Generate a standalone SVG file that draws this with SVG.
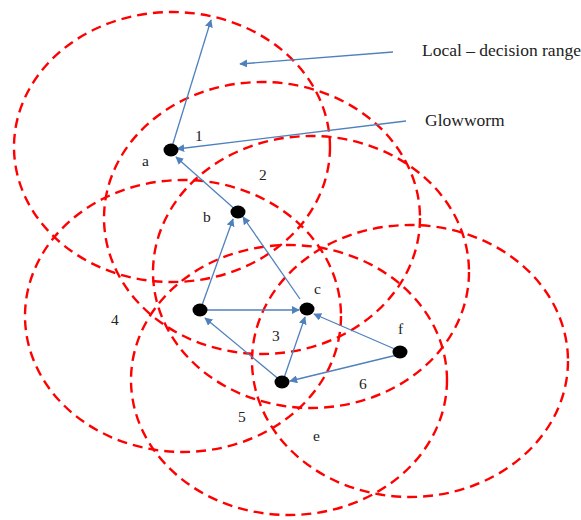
<svg xmlns="http://www.w3.org/2000/svg" width="581" height="520" viewBox="0 0 581 520">
  <style>
    .range { fill: none; stroke: #ff0000; stroke-width: 2.4; stroke-dasharray: 10 6; }
    .link { stroke: #4f81bd; stroke-width: 1.3; fill: none; marker-end: url(#arrow); }
    .worm { fill: #000; }
    .lbl { font-family: "Liberation Serif", "Times New Roman", serif; font-size: 15.5px; fill: #222; }
    .note { font-family: "Liberation Serif", "Times New Roman", serif; font-size: 17.5px; fill: #222; }
  </style>
  <defs>
    <marker id="arrow" viewBox="0 0 10 10" refX="9" refY="5" markerWidth="8" markerHeight="8" markerUnits="userSpaceOnUse" orient="auto">
      <path d="M0,0 L10,5 L0,10 z" fill="#4f81bd"/>
    </marker>
  </defs>
  <rect width="581" height="520" fill="#fff"/>

  <!-- decision ranges -->
  <g id="ranges">
    <ellipse class="range" cx="172" cy="147" rx="158" ry="135"/>
    <ellipse class="range" cx="262" cy="218" rx="158" ry="136"/>
    <ellipse class="range" cx="311" cy="272" rx="158" ry="136"/>
    <ellipse class="range" cx="183" cy="316" rx="158" ry="136"/>
    <ellipse class="range" cx="289" cy="380" rx="158" ry="135"/>
    <ellipse class="range" cx="410" cy="361" rx="158" ry="136"/>
  </g>

  <!-- connectors -->
  <g id="connectors">
    <line class="link" x1="171" y1="150" x2="211" y2="20"/>
    <line class="link" x1="393" y1="52" x2="240" y2="64"/>
    <line class="link" x1="406" y1="121" x2="177" y2="149"/>
    <line class="link" x1="238" y1="212" x2="176" y2="157"/>
    <line class="link" x1="201" y1="308" x2="233" y2="219"/>
    <line class="link" x1="300" y1="299" x2="243" y2="217"/>
    <line class="link" x1="205" y1="310" x2="299" y2="310"/>
    <line class="link" x1="281" y1="381" x2="205" y2="318"/>
    <line class="link" x1="284" y1="378" x2="305" y2="317"/>
    <line class="link" x1="397" y1="350" x2="314" y2="314"/>
    <line class="link" x1="397" y1="355" x2="290" y2="381"/>
  </g>

  <!-- glowworms -->
  <g id="node-a"><ellipse class="worm" cx="171" cy="150" rx="7.5" ry="6.5"/><text class="lbl" x="142" y="166">a</text></g>
  <g id="node-b"><ellipse class="worm" cx="238" cy="212" rx="7.5" ry="6.5"/><text class="lbl" x="203" y="222">b</text></g>
  <g id="node-left"><ellipse class="worm" cx="200" cy="310" rx="7.5" ry="6.5"/></g>
  <g id="node-c"><ellipse class="worm" cx="307" cy="309" rx="7.5" ry="6.5"/><text class="lbl" x="314" y="294">c</text></g>
  <g id="node-e"><ellipse class="worm" cx="282" cy="382" rx="7.5" ry="6.5"/><text class="lbl" x="313" y="441">e</text></g>
  <g id="node-f"><ellipse class="worm" cx="400" cy="352" rx="7.5" ry="6.5"/><text class="lbl" x="398" y="334">f</text></g>

  <!-- range numbers -->
  <g id="range-labels">
    <text class="lbl" x="195" y="141">1</text>
    <text class="lbl" x="259" y="180">2</text>
    <text class="lbl" x="272" y="341">3</text>
    <text class="lbl" x="111" y="325">4</text>
    <text class="lbl" x="238" y="422">5</text>
    <text class="lbl" x="359" y="389">6</text>
  </g>

  <!-- callouts -->
  <g id="callouts">
    <text class="note" x="422" y="56">Local – decision range</text>
    <text class="note" x="425" y="126">Glowworm</text>
  </g>
</svg>
